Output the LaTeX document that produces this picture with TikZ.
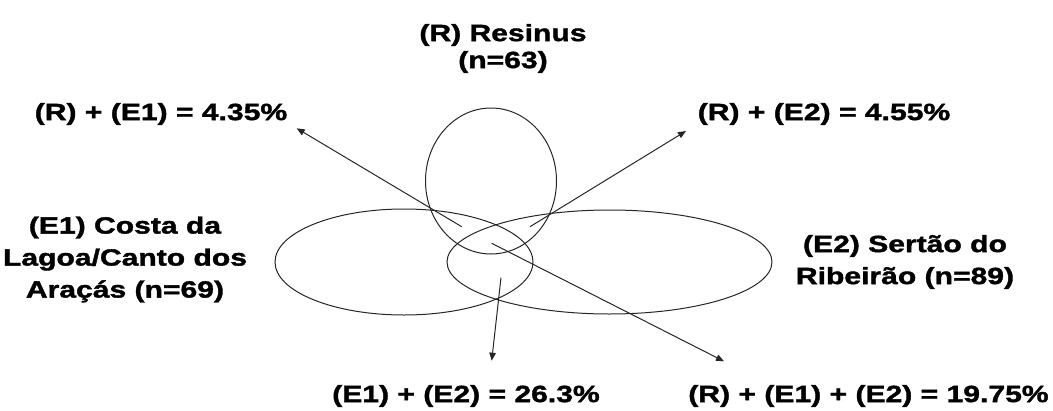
\documentclass[tikz,border=0pt]{standalone}
\usepackage{fontspec}
\newfontfamily\labfont{Liberation Sans}[FakeStretch=1.28,FakeBold=1.6]
\usetikzlibrary{arrows.meta}
\tikzset{
  shapeline/.style={draw=black!85, line width=1pt},
  pointer/.style={draw=black!85, line width=1pt, -{Triangle[length=8pt,width=6.5pt]}},
  lab/.style={inner sep=0pt, align=center, font=\labfont\bfseries\fontsize{23.5}{32}\selectfont},
}
\begin{document}
\begin{tikzpicture}[x=1pt,y=-1pt]
\useasboundingbox (0,0) rectangle (1053,410);
% sets
\draw[shapeline] (491,181) ellipse [x radius=65.5, y radius=73];
\draw[shapeline] (404,262) ellipse [x radius=129, y radius=53];
\draw[shapeline] (609.5,262) ellipse [x radius=162.5, y radius=52];
% labels
\node[lab, font=\labfont\bfseries\fontsize{23.5}{27}\selectfont] (rlab) at (503,48.5) {(R) Resinus\\(n=63)};
\node[lab] (e1lab) at (125,259.5) {(E1) Costa da\\Lagoa/Canto dos\\Araçás (n=69)};
\node[lab] (e2lab) at (905,262) {(E2) Sertão do\\Ribeirão (n=89)};
\node[lab] (re1) at (161,114) {(R) + (E1) = 4.35\%};
\node[lab] (re2) at (824,114) {(R) + (E2) = 4.55\%};
\node[lab] (e1e2) at (466,396) {(E1) + (E2) = 26.3\%};
\node[lab] (all) at (868.5,396) {(R) + (E1) + (E2) = 19.75\%};
% arrow ends
\coordinate (s1) at (461.7,226.7); \coordinate (t1) at (296.7,128.3);
\coordinate (s2) at (530,226.7);   \coordinate (t2) at (686,131);
\coordinate (s3) at (501,277.7);   \coordinate (t3) at (491.7,360.7);
\coordinate (s4) at (491.7,243.3); \coordinate (t4) at (724,361.3);
\draw[pointer] (s1) -- (t1);
\draw[pointer] (s2) -- (t2);
\draw[pointer] (s3) -- (t3);
\draw[pointer] (s4) -- (t4);
\end{tikzpicture}
\end{document}
